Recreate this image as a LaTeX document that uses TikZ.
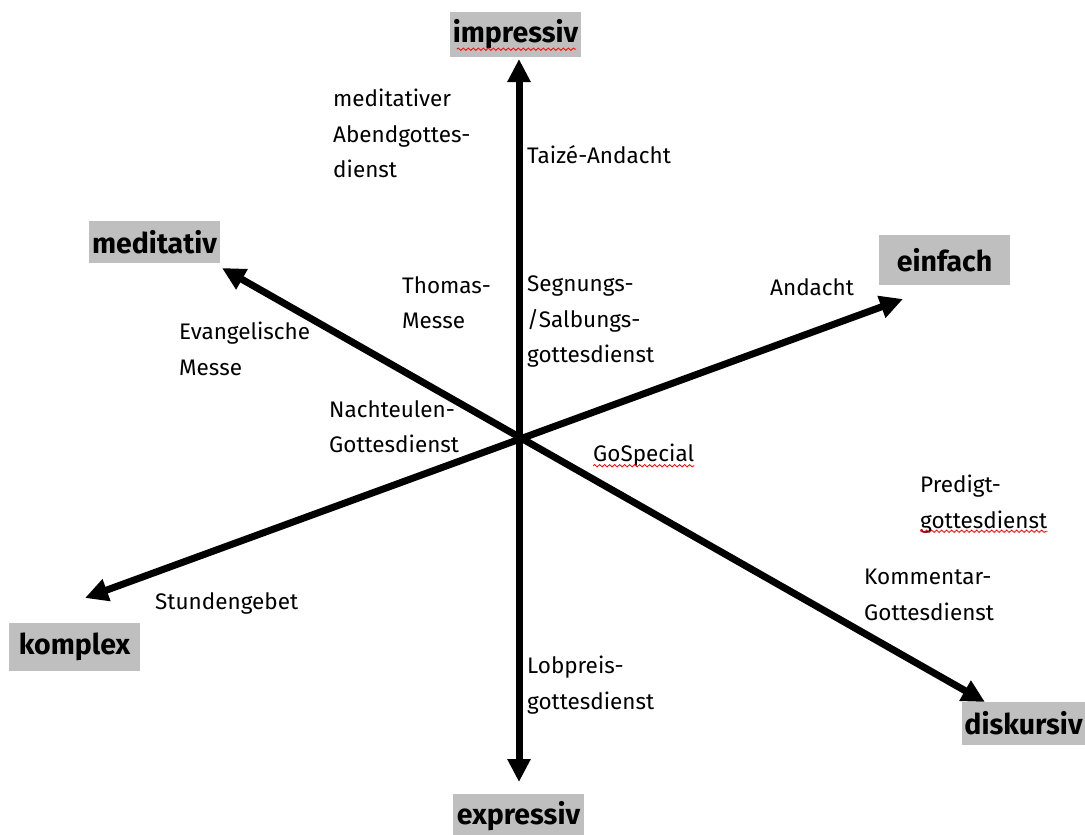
\documentclass[tikz,border=0pt]{standalone}
\usepackage{fontspec}
\setmainfont{Fira Sans}
\usetikzlibrary{arrows.meta,decorations.pathmorphing}

\tikzset{
  axis/.style={line width=7pt,
    {Triangle[length=23pt,width=22pt]}-{Triangle[length=23pt,width=22pt]}},
  pole/.style={fill=gray!50, minimum width=131pt, minimum height=45pt,
    inner sep=0pt, font=\fontsize{28.5}{30}\selectfont\bfseries},
  form/.style={anchor=north west, align=left, inner sep=0pt,
    font=\fontsize{22.5}{35.5}\selectfont},
  spell/.style={red, line width=0.8pt, decorate,
    decoration={snake, amplitude=1.2pt, segment length=5pt}}
}

\begin{document}
\begin{tikzpicture}[x=1pt,y=-1pt]
    \useasboundingbox (0,0) rectangle (1085,835);

    % ends of the three axes
    \coordinate (impTip) at (519,59);
    \coordinate (expTip) at (519,782);
    \coordinate (einTip) at (903,299);
    \coordinate (komTip) at (85,598);
    \coordinate (medTip) at (222,268);
    \coordinate (disTip) at (985,702);

    \draw[axis] (impTip) -- (expTip);
    \draw[axis] (komTip) -- (einTip);
    \draw[axis] (medTip) -- (disTip);

    % poles
    \node[pole] (imp) at (515.5,34.5) {impressiv};
    \node[pole, minimum height=42pt] (med) at (154.5,242) {meditativ};
    \node[pole, minimum height=50pt] (ein) at (944.5,260) {einfach};
    \node[pole, minimum height=48pt] (kom) at (74.5,647) {komplex};
    \node[pole, minimum width=123pt, minimum height=43pt] (dis) at (1023.5,723.5) {diskursiv};
    \node[pole, minimum height=44pt] (exp) at (518.5,816) {expressiv};

    % forms of service
    \node[form] (abend) at (333,89) {meditativer\\Abendgottes-\\dienst};
    \node[form] (taize) at (527,145) {Taizé-Andacht};
    \node[form] (thomas) at (402,276) {Thomas-\\Messe};
    \node[form] (segnung) at (527,276) {Segnungs-\\/Salbungs-\\gottesdienst};
    \node[form] (andacht) at (770,278) {Andacht};
    \node[form] (evmesse) at (179,322) {Evangelische\\Messe};
    \node[form] (nacht) at (329,400) {Nachteulen-\\Gottesdienst};
    \node[form] (gosp) at (593,444) {GoSpecial};
    \node[form] (pred) at (920,475) {Predigt-\\gottesdienst};
    \node[form] (komm) at (864,569) {Kommentar-\\Gottesdienst};
    \node[form] (stunden) at (155,592) {Stundengebet};
    \node[form] (lob) at (527,656) {Lobpreis-\\gottesdienst};

    % spell check marks
    \draw[spell] ([xshift=7pt,yshift=8pt]imp.south west) -- ([xshift=-5pt,yshift=8pt]imp.south east);
    \draw[spell] ([yshift=-4pt]gosp.base west) -- ([yshift=-4pt]gosp.base east);
    \draw[spell] ([yshift=2pt]pred.south west) -- ([yshift=2pt]pred.south east);
\end{tikzpicture}
\end{document}
